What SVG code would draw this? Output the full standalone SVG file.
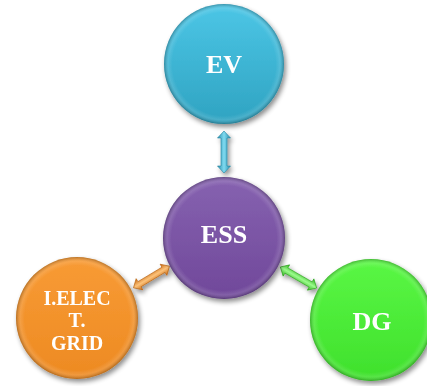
<svg xmlns="http://www.w3.org/2000/svg" width="427" height="386" viewBox="0 0 427 386">
  <defs>
    <filter id="sh" x="-20%" y="-20%" width="150%" height="150%">
      <feGaussianBlur in="SourceAlpha" stdDeviation="2.5"/>
      <feOffset dx="2" dy="3" result="b"/>
      <feComponentTransfer><feFuncA type="linear" slope="0.45"/></feComponentTransfer>
      <feMerge><feMergeNode/><feMergeNode in="SourceGraphic"/></feMerge>
    </filter>
    <radialGradient id="bevel" cx="50%" cy="50%" r="50%">
      <stop offset="0.86" stop-color="#fff" stop-opacity="0"/>
      <stop offset="0.93" stop-color="#fff" stop-opacity="0.12"/>
      <stop offset="1" stop-color="#000" stop-opacity="0.25"/>
    </radialGradient>
    <linearGradient id="gEV" x1="0" y1="0" x2="0" y2="1">
      <stop offset="0" stop-color="#4cc6e6"/>
      <stop offset="1" stop-color="#2fa3c1"/>
    </linearGradient>
    <linearGradient id="gESS" x1="0" y1="0" x2="0" y2="1">
      <stop offset="0" stop-color="#8662b0"/>
      <stop offset="1" stop-color="#70489a"/>
    </linearGradient>
    <linearGradient id="gGR" x1="0" y1="0" x2="0" y2="1">
      <stop offset="0" stop-color="#f89b35"/>
      <stop offset="1" stop-color="#ed8a22"/>
    </linearGradient>
    <linearGradient id="gDG" x1="0" y1="0" x2="0" y2="1">
      <stop offset="0" stop-color="#5af745"/>
      <stop offset="1" stop-color="#3fe02c"/>
    </linearGradient>
    <linearGradient id="aEV" x1="0" y1="0" x2="0" y2="1">
      <stop offset="0" stop-color="#2a8fae"/><stop offset="0.5" stop-color="#7fdaf0"/><stop offset="1" stop-color="#2a8fae"/>
    </linearGradient>
    <linearGradient id="aGR" x1="0" y1="0" x2="0" y2="1">
      <stop offset="0" stop-color="#c96a10"/><stop offset="0.5" stop-color="#fcc27a"/><stop offset="1" stop-color="#c96a10"/>
    </linearGradient>
    <linearGradient id="aDG" x1="0" y1="0" x2="0" y2="1">
      <stop offset="0" stop-color="#2fb41e"/><stop offset="0.5" stop-color="#9bfb8c"/><stop offset="1" stop-color="#2fb41e"/>
    </linearGradient>
    <style>
      .lbl { font-family: "Liberation Serif", "Times New Roman", serif; font-weight: bold; fill: #fff; text-anchor: middle; }
      .big { font-size: 26px; }
      .small { font-size: 20px; }
      .rim { fill: url(#bevel); }
    </style>
  </defs>

  <g id="connectors" filter="url(#sh)">
    <polygon fill="url(#aEV)" stroke="#1f7f9c" stroke-width="0.6" transform="translate(224,152) rotate(90)" points="-21,0 -14,-6.5 -14,-3 14,-3 14,-6.5 21,0 14,6.5 14,3 -14,3 -14,6.5"/>
    <polygon fill="url(#aGR)" stroke="#b55f0c" stroke-width="0.6" transform="translate(151.5,277) rotate(-31)" points="-21,0 -14,-6.5 -14,-3 14,-3 14,-6.5 21,0 14,6.5 14,3 -14,3 -14,6.5"/>
    <polygon fill="url(#aDG)" stroke="#28a018" stroke-width="0.6" transform="translate(298.5,277.5) rotate(30)" points="-21,0 -14,-6.5 -14,-3 14,-3 14,-6.5 21,0 14,6.5 14,3 -14,3 -14,6.5"/>
  </g>

  <g id="EV" filter="url(#sh)">
    <circle cx="224" cy="64" r="60" fill="url(#gEV)"/>
    <circle cx="224" cy="64" r="60" class="rim"/>
    <text x="224" y="73" class="lbl big">EV</text>
  </g>

  <g id="ESS" filter="url(#sh)">
    <circle cx="224" cy="238" r="61" fill="url(#gESS)"/>
    <circle cx="224" cy="238" r="61" class="rim"/>
    <text x="224" y="243" class="lbl big">ESS</text>
  </g>

  <g id="GRID" filter="url(#sh)">
    <circle cx="77" cy="318" r="61" fill="url(#gGR)"/>
    <circle cx="77" cy="318" r="61" class="rim"/>
    <text x="77" y="305" class="lbl small">I.ELEC</text>
    <text x="77" y="327" class="lbl small">T.</text>
    <text x="77" y="350" class="lbl small">GRID</text>
  </g>

  <g id="DG" filter="url(#sh)">
    <circle cx="371" cy="320" r="61" fill="url(#gDG)"/>
    <circle cx="371" cy="320" r="61" class="rim"/>
    <text x="372" y="330" class="lbl big">DG</text>
  </g>
</svg>
